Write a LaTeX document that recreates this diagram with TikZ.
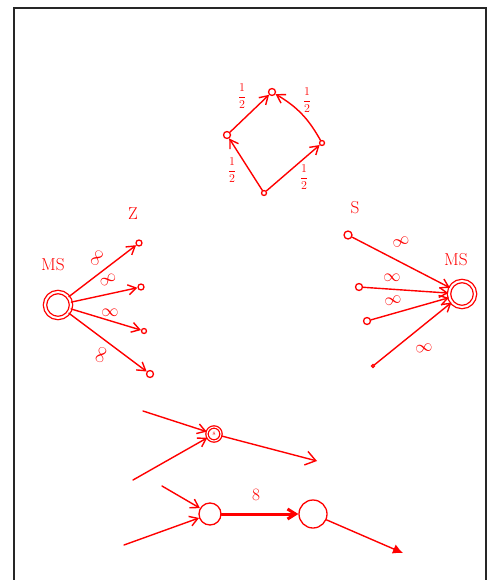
\documentclass[tikz,border=0pt]{standalone}
\usetikzlibrary{arrows.meta}
\begin{document}
\begin{tikzpicture}[x=1pt,y=-1pt,
  pen/.style={draw=red, line width=1.4pt, line cap=round},
  arr/.style={pen, -{Straight Barb[length=8pt,width=10pt]}},
  vtx/.style={circle, draw=red, line width=1.3pt, inner sep=0pt, minimum size=#1},
  lab/.style={text=red, font=\LARGE},
  frac/.style={text=red, font=\large}]
\useasboundingbox (0,0) rectangle (489,580);
\fill[white] (0,0) rectangle (489,580);
% frame
\draw[line width=1.8pt, black!85] (14,580) -- (14,8) -- (486,8) -- (486,580);

% ---- diamond ----
\node[vtx=7pt] (dt) at (272,92) {};
\node[vtx=7pt] (dl) at (227,135) {};
\node[vtx=5pt] (dr) at (322,143) {};
\node[vtx=5pt] (db) at (264,193) {};
\draw[arr] (db) -- (dl);
\draw[arr] (dl) -- (dt);
\draw[arr] (db) -- (dr);
\draw[arr] (dr) to[bend right=15] (dt);
\node[frac] at (242,96) {$\displaystyle\frac12$};
\node[frac] at (307,100) {$\displaystyle\frac12$};
\node[frac] at (232,170) {$\displaystyle\frac12$};
\node[frac] at (304,177) {$\displaystyle\frac12$};

% ---- left cluster ----
\node[vtx=26pt, double=white, double distance=2pt] (ms) at (58,305) {};
\node[vtx=6pt] (z1) at (139,243) {};
\node[vtx=6pt] (z2) at (141,287) {};
\node[vtx=5pt] (z3) at (144,331) {};
\node[vtx=7pt] (z4) at (150,374) {};
\draw[arr] (ms) -- (z1);
\draw[arr] (ms) -- (z2);
\draw[arr] (ms) -- (z3);
\draw[arr] (ms) -- (z4);
\node[lab, rotate=60] at (97,258) {$\infty$};
\node[lab, rotate=30] at (108,280) {$\infty$};
\node[lab] at (110,313) {$\infty$};
\node[lab, rotate=70] at (101,355) {$\infty$};
\node[lab] at (53,265) {MS};
\node[lab] at (133,214) {Z};

% ---- right cluster ----
\node[vtx=26pt, double=white, double distance=2pt] (mt) at (462,294) {};
\node[vtx=8pt] (s1) at (348,235) {};
\node[vtx=7pt] (s2) at (359,287) {};
\node[vtx=7pt] (s3) at (367,321) {};
\node[vtx=3pt] (s4) at (373,366) {};
\draw[arr] (s1) -- (mt);
\draw[arr] (s2) -- (mt);
\draw[arr] (s3) -- (mt);
\draw[arr] (s4) -- (mt);
\node[lab, rotate=20] at (401,242) {$\infty$};
\node[lab] at (392,278) {$\infty$};
\node[lab, rotate=15] at (393,301) {$\infty$};
\node[lab, rotate=10] at (424,348) {$\infty$};
\node[lab] at (355,208) {S};
\node[lab] at (456,260) {MS};

% ---- bottom: merging ----
\node[vtx=14pt, double=white, double distance=1pt] (a) at (214,434) {};
\node[text=red, font=\tiny] at (a) {8};
\coordinate (ai1) at (143,411);
\coordinate (ai2) at (133,480);
\coordinate (ao) at (317,461);
\draw[arr] (ai1) -- (a);
\draw[arr] (ai2) -- (a);
\draw[arr, -{Straight Barb[length=10pt,width=14pt]}] (a) -- (ao);

\node[vtx=22pt] (b) at (210,514) {};
\node[vtx=28pt] (c) at (313,514) {};
\coordinate (bi1) at (162,486);
\coordinate (bi2) at (124,545);
\coordinate (co) at (403,553);
\draw[arr] (bi1) -- (b);
\draw[arr] (bi2) -- (b);
\draw[arr, line width=3pt, -{Straight Barb[length=8pt,width=10pt]}] (b) -- (c);
\draw[arr, -{Latex[length=10pt,width=10pt]}] (c) -- (co);
\node[lab] at (256,495) {8};
\end{tikzpicture}
\end{document}
